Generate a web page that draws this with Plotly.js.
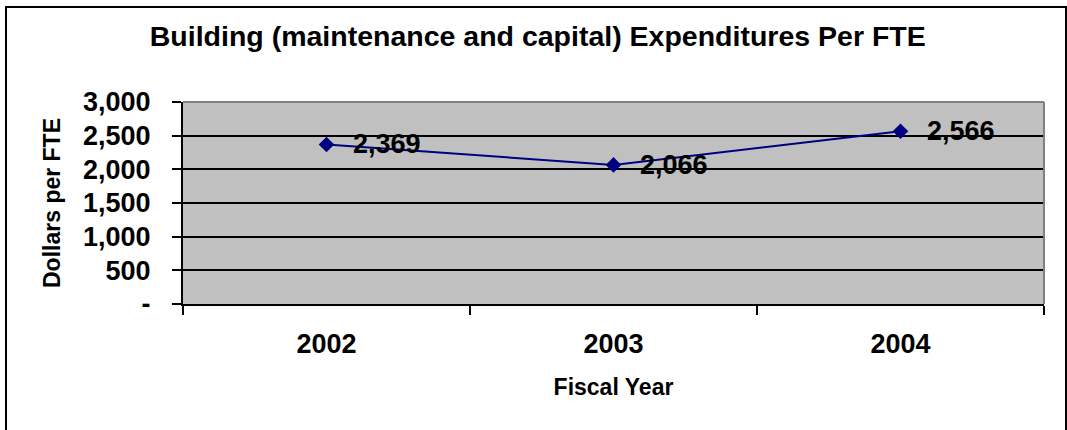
<!DOCTYPE html>
<html>
<head>
<meta charset="utf-8">
<script src="https://cdn.plot.ly/plotly-3.0.1.min.js"></script>
<style>
html,body{margin:0;padding:0;background:#fff;overflow:hidden;}
#chart{position:absolute;left:0;top:0;width:1067px;height:430px;}
#frame{position:absolute;left:5px;top:6px;width:1058px;height:440px;border:2px solid #000;pointer-events:none;}
</style>
</head>
<body>
<div id="chart"></div>
<div id="frame"></div>
<script>
const years = ["2002", "2003", "2004"];
const dollarsPerFTE = [2369, 2066, 2566];
const yTickVals = [0, 500, 1000, 1500, 2000, 2500, 3000];
const yTickText = ["-", "500", "1,000", "1,500", "2,000", "2,500", "3,000"];
const labelText = dollarsPerFTE.map(v => v.toLocaleString("en-US"));

const FONT = "Arial, 'Liberation Sans', sans-serif";

const trace = {
  x: years,
  y: dollarsPerFTE,
  type: "scatter",
  mode: "lines+markers",
  line: {color: "#000080", width: 2},
  marker: {symbol: "diamond", size: 12, color: "#000080"},
  hoverinfo: "none"
};

const annotations = years.map((yr, i) => ({
  x: i, y: dollarsPerFTE[i], xref: "x", yref: "y",
  text: "<b>" + labelText[i] + "</b>", showarrow: false,
  xanchor: "left", yanchor: "middle", xshift: 24, yshift: 0,
  font: {family: FONT, size: 27, color: "#000"}
}));

const layout = {
  width: 1067, height: 430,
  margin: {l: 183, r: 23, t: 102, b: 126},
  paper_bgcolor: "#ffffff",
  plot_bgcolor: "#C0C0C0",
  showlegend: false,
  title: {
    text: "<b>Building (maintenance and capital) Expenditures Per FTE</b>",
    font: {family: FONT, size: 28.5, color: "#000"},
    xref: "container", x: 0.504, xanchor: "center",
    yref: "container", y: 1 - 36/430, yanchor: "middle"
  },
  xaxis: {
    type: "category",
    tickson: "boundaries",
    ticks: "outside", ticklen: 9, tickwidth: 2, tickcolor: "#000",
    showline: true, linecolor: "#000", linewidth: 2,
    showgrid: false, zeroline: false,
    tickfont: {family: FONT, size: 27, color: "#000", weight: "bold"},
    ticklabelstandoff: 15,
    title: {text: "<b>Fiscal Year</b>", font: {family: FONT, size: 23, color: "#000"}, standoff: 20},
    range: [-0.5, 2.5],
    fixedrange: true
  },
  yaxis: {
    range: [0, 3000],
    tickvals: yTickVals, ticktext: yTickText,
    ticks: "outside", ticklen: 9, tickwidth: 2, tickcolor: "#000",
    showline: true, linecolor: "#000", linewidth: 2,
    showgrid: true, gridcolor: "#000", gridwidth: 2,
    zeroline: false,
    tickfont: {family: FONT, size: 27, color: "#000", weight: "bold"},
    ticklabelstandoff: 16,
    title: {text: "<b>Dollars per FTE</b>", font: {family: FONT, size: 23, color: "#000"}, standoff: 16},
    fixedrange: true
  },
  shapes: [
    {type: "line", xref: "paper", yref: "paper", x0: 0, x1: 1, y0: 1, y1: 1, line: {color: "#808080", width: 2}},
    {type: "line", xref: "paper", yref: "paper", x0: 1, x1: 1, y0: 0, y1: 1, line: {color: "#808080", width: 2}}
  ],
  annotations: annotations
};

Plotly.newPlot("chart", [trace], layout, {displayModeBar: false, staticPlot: true});
</script>
</body>
</html>
